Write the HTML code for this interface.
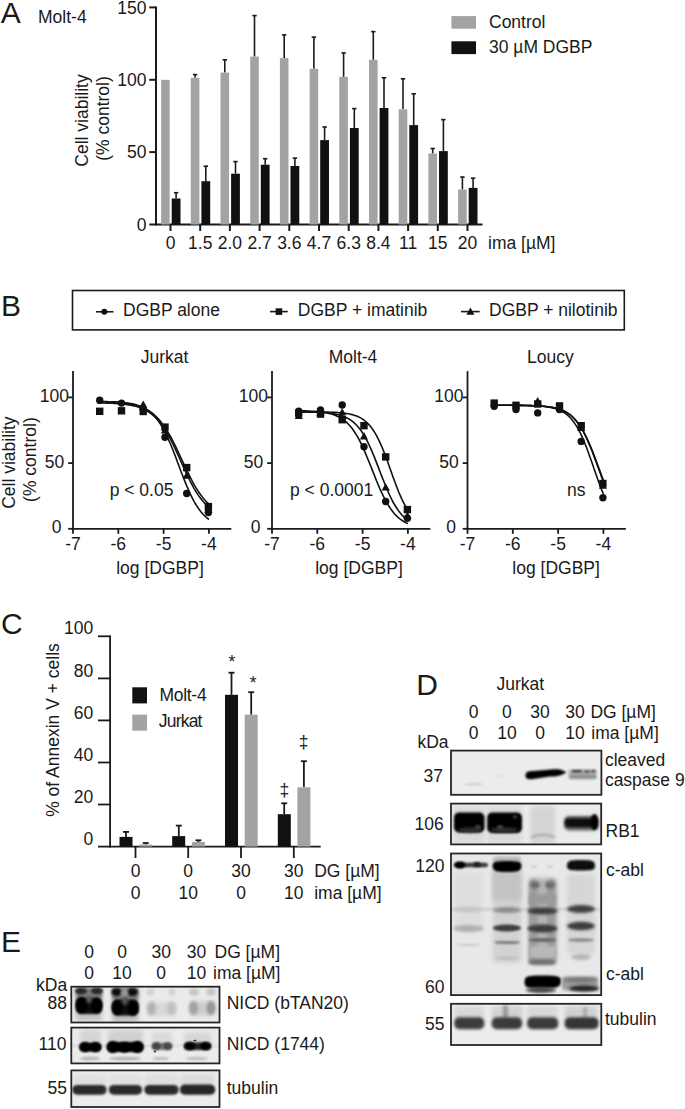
<!DOCTYPE html>
<html><head><meta charset="utf-8"><style>
html,body{margin:0;padding:0;background:#fff;}
svg{display:block;}
text{font-family:"Liberation Sans", sans-serif;fill:#1a1a1a;}
</style></head><body>
<svg width="685" height="1109" viewBox="0 0 685 1109">
<defs><filter id="f6" x="-50%" y="-100%" width="200%" height="300%"><feGaussianBlur stdDeviation="0.6"/></filter><filter id="f8" x="-50%" y="-100%" width="200%" height="300%"><feGaussianBlur stdDeviation="0.8"/></filter><filter id="f9" x="-50%" y="-100%" width="200%" height="300%"><feGaussianBlur stdDeviation="0.9"/></filter><filter id="f10" x="-50%" y="-100%" width="200%" height="300%"><feGaussianBlur stdDeviation="1"/></filter><filter id="f11" x="-50%" y="-100%" width="200%" height="300%"><feGaussianBlur stdDeviation="1.1"/></filter><filter id="f12" x="-50%" y="-100%" width="200%" height="300%"><feGaussianBlur stdDeviation="1.2"/></filter><filter id="f13" x="-50%" y="-100%" width="200%" height="300%"><feGaussianBlur stdDeviation="1.3"/></filter><filter id="f14" x="-50%" y="-100%" width="200%" height="300%"><feGaussianBlur stdDeviation="1.4"/></filter><filter id="f15" x="-50%" y="-100%" width="200%" height="300%"><feGaussianBlur stdDeviation="1.5"/></filter><filter id="f16" x="-50%" y="-100%" width="200%" height="300%"><feGaussianBlur stdDeviation="1.6"/></filter><filter id="f18" x="-50%" y="-100%" width="200%" height="300%"><feGaussianBlur stdDeviation="1.8"/></filter><filter id="f20" x="-50%" y="-100%" width="200%" height="300%"><feGaussianBlur stdDeviation="2"/></filter></defs>
<rect width="685" height="1109" fill="#fff"/>
<text x="0.8" y="22.6" font-size="30" text-anchor="start" >A</text>
<text x="38.0" y="22.8" font-size="17.5" text-anchor="start" >Molt-4</text>
<line x1="156.0" y1="6.6" x2="156.0" y2="225.3" stroke="#1a1a1a" stroke-width="2"/>
<line x1="155.0" y1="224.5" x2="482.5" y2="224.5" stroke="#1a1a1a" stroke-width="2"/>
<line x1="149.3" y1="224.5" x2="156.0" y2="224.5" stroke="#1a1a1a" stroke-width="2"/>
<text x="146.5" y="230.6" font-size="17.5" text-anchor="end" >0</text>
<line x1="149.3" y1="152.1" x2="156.0" y2="152.1" stroke="#1a1a1a" stroke-width="2"/>
<text x="146.5" y="158.2" font-size="17.5" text-anchor="end" >50</text>
<line x1="149.3" y1="79.8" x2="156.0" y2="79.8" stroke="#1a1a1a" stroke-width="2"/>
<text x="146.5" y="85.9" font-size="17.5" text-anchor="end" >100</text>
<line x1="149.3" y1="7.4" x2="156.0" y2="7.4" stroke="#1a1a1a" stroke-width="2"/>
<text x="146.5" y="13.5" font-size="17.5" text-anchor="end" >150</text>
<line x1="176.1" y1="192.7" x2="176.1" y2="198.5" stroke="#1a1a1a" stroke-width="1.6"/>
<line x1="173.9" y1="192.7" x2="178.3" y2="192.7" stroke="#1a1a1a" stroke-width="1.6"/>
<rect x="161.1" y="79.8" width="8.6" height="144.7" fill="#a3a3a3" />
<rect x="171.7" y="198.5" width="8.8" height="26.0" fill="#111111" />
<line x1="170.5" y1="224.5" x2="170.5" y2="231.0" stroke="#1a1a1a" stroke-width="2"/>
<text x="170.5" y="248.9" font-size="17.5" text-anchor="middle" >0</text>
<line x1="195.1" y1="74.6" x2="195.1" y2="77.8" stroke="#1a1a1a" stroke-width="1.6"/>
<line x1="192.9" y1="74.6" x2="197.3" y2="74.6" stroke="#1a1a1a" stroke-width="1.6"/>
<line x1="205.8" y1="166.2" x2="205.8" y2="181.2" stroke="#1a1a1a" stroke-width="1.6"/>
<line x1="203.6" y1="166.2" x2="208.0" y2="166.2" stroke="#1a1a1a" stroke-width="1.6"/>
<rect x="190.8" y="77.8" width="8.6" height="146.7" fill="#a3a3a3" />
<rect x="201.4" y="181.2" width="8.8" height="43.3" fill="#111111" />
<line x1="200.2" y1="224.5" x2="200.2" y2="231.0" stroke="#1a1a1a" stroke-width="2"/>
<text x="200.2" y="248.9" font-size="17.5" text-anchor="middle" >1.5</text>
<line x1="224.8" y1="59.8" x2="224.8" y2="72.6" stroke="#1a1a1a" stroke-width="1.6"/>
<line x1="222.6" y1="59.8" x2="227.0" y2="59.8" stroke="#1a1a1a" stroke-width="1.6"/>
<line x1="235.5" y1="161.6" x2="235.5" y2="173.7" stroke="#1a1a1a" stroke-width="1.6"/>
<line x1="233.3" y1="161.6" x2="237.7" y2="161.6" stroke="#1a1a1a" stroke-width="1.6"/>
<rect x="220.5" y="72.6" width="8.6" height="151.9" fill="#a3a3a3" />
<rect x="231.1" y="173.7" width="8.8" height="50.8" fill="#111111" />
<line x1="229.9" y1="224.5" x2="229.9" y2="231.0" stroke="#1a1a1a" stroke-width="2"/>
<text x="229.9" y="248.9" font-size="17.5" text-anchor="middle" >2.0</text>
<line x1="254.5" y1="15.6" x2="254.5" y2="56.6" stroke="#1a1a1a" stroke-width="1.6"/>
<line x1="252.3" y1="15.6" x2="256.7" y2="15.6" stroke="#1a1a1a" stroke-width="1.6"/>
<line x1="265.2" y1="158.7" x2="265.2" y2="164.7" stroke="#1a1a1a" stroke-width="1.6"/>
<line x1="263.0" y1="158.7" x2="267.4" y2="158.7" stroke="#1a1a1a" stroke-width="1.6"/>
<rect x="250.2" y="56.6" width="8.6" height="167.9" fill="#a3a3a3" />
<rect x="260.8" y="164.7" width="8.8" height="59.8" fill="#111111" />
<line x1="259.6" y1="224.5" x2="259.6" y2="231.0" stroke="#1a1a1a" stroke-width="2"/>
<text x="259.6" y="248.9" font-size="17.5" text-anchor="middle" >2.7</text>
<line x1="284.2" y1="34.9" x2="284.2" y2="58.1" stroke="#1a1a1a" stroke-width="1.6"/>
<line x1="282.0" y1="34.9" x2="286.4" y2="34.9" stroke="#1a1a1a" stroke-width="1.6"/>
<line x1="294.9" y1="158.1" x2="294.9" y2="166.0" stroke="#1a1a1a" stroke-width="1.6"/>
<line x1="292.7" y1="158.1" x2="297.1" y2="158.1" stroke="#1a1a1a" stroke-width="1.6"/>
<rect x="279.9" y="58.1" width="8.6" height="166.4" fill="#a3a3a3" />
<rect x="290.5" y="166.0" width="8.8" height="58.5" fill="#111111" />
<line x1="289.3" y1="224.5" x2="289.3" y2="231.0" stroke="#1a1a1a" stroke-width="2"/>
<text x="289.3" y="248.9" font-size="17.5" text-anchor="middle" >3.6</text>
<line x1="313.9" y1="37.1" x2="313.9" y2="68.8" stroke="#1a1a1a" stroke-width="1.6"/>
<line x1="311.7" y1="37.1" x2="316.1" y2="37.1" stroke="#1a1a1a" stroke-width="1.6"/>
<line x1="324.6" y1="127.0" x2="324.6" y2="140.1" stroke="#1a1a1a" stroke-width="1.6"/>
<line x1="322.4" y1="127.0" x2="326.8" y2="127.0" stroke="#1a1a1a" stroke-width="1.6"/>
<rect x="309.6" y="68.8" width="8.6" height="155.7" fill="#a3a3a3" />
<rect x="320.2" y="140.1" width="8.8" height="84.4" fill="#111111" />
<line x1="319.0" y1="224.5" x2="319.0" y2="231.0" stroke="#1a1a1a" stroke-width="2"/>
<text x="319.0" y="248.9" font-size="17.5" text-anchor="middle" >4.7</text>
<line x1="343.6" y1="52.9" x2="343.6" y2="76.9" stroke="#1a1a1a" stroke-width="1.6"/>
<line x1="341.4" y1="52.9" x2="345.8" y2="52.9" stroke="#1a1a1a" stroke-width="1.6"/>
<line x1="354.3" y1="108.6" x2="354.3" y2="128.0" stroke="#1a1a1a" stroke-width="1.6"/>
<line x1="352.1" y1="108.6" x2="356.5" y2="108.6" stroke="#1a1a1a" stroke-width="1.6"/>
<rect x="339.3" y="76.9" width="8.6" height="147.6" fill="#a3a3a3" />
<rect x="349.9" y="128.0" width="8.8" height="96.5" fill="#111111" />
<line x1="348.7" y1="224.5" x2="348.7" y2="231.0" stroke="#1a1a1a" stroke-width="2"/>
<text x="348.7" y="248.9" font-size="17.5" text-anchor="middle" >6.3</text>
<line x1="373.3" y1="31.6" x2="373.3" y2="59.8" stroke="#1a1a1a" stroke-width="1.6"/>
<line x1="371.1" y1="31.6" x2="375.5" y2="31.6" stroke="#1a1a1a" stroke-width="1.6"/>
<line x1="384.0" y1="77.8" x2="384.0" y2="108.0" stroke="#1a1a1a" stroke-width="1.6"/>
<line x1="381.8" y1="77.8" x2="386.2" y2="77.8" stroke="#1a1a1a" stroke-width="1.6"/>
<rect x="369.0" y="59.8" width="8.6" height="164.7" fill="#a3a3a3" />
<rect x="379.6" y="108.0" width="8.8" height="116.5" fill="#111111" />
<line x1="378.4" y1="224.5" x2="378.4" y2="231.0" stroke="#1a1a1a" stroke-width="2"/>
<text x="378.4" y="248.9" font-size="17.5" text-anchor="middle" >8.4</text>
<line x1="403.0" y1="78.8" x2="403.0" y2="109.3" stroke="#1a1a1a" stroke-width="1.6"/>
<line x1="400.8" y1="78.8" x2="405.2" y2="78.8" stroke="#1a1a1a" stroke-width="1.6"/>
<line x1="413.7" y1="93.8" x2="413.7" y2="125.1" stroke="#1a1a1a" stroke-width="1.6"/>
<line x1="411.5" y1="93.8" x2="415.9" y2="93.8" stroke="#1a1a1a" stroke-width="1.6"/>
<rect x="398.7" y="109.3" width="8.6" height="115.2" fill="#a3a3a3" />
<rect x="409.3" y="125.1" width="8.8" height="99.4" fill="#111111" />
<line x1="408.1" y1="224.5" x2="408.1" y2="231.0" stroke="#1a1a1a" stroke-width="2"/>
<text x="408.1" y="248.9" font-size="17.5" text-anchor="middle" >11</text>
<line x1="432.7" y1="148.5" x2="432.7" y2="153.5" stroke="#1a1a1a" stroke-width="1.6"/>
<line x1="430.5" y1="148.5" x2="434.9" y2="148.5" stroke="#1a1a1a" stroke-width="1.6"/>
<line x1="443.4" y1="119.6" x2="443.4" y2="151.1" stroke="#1a1a1a" stroke-width="1.6"/>
<line x1="441.2" y1="119.6" x2="445.6" y2="119.6" stroke="#1a1a1a" stroke-width="1.6"/>
<rect x="428.4" y="153.5" width="8.6" height="71.0" fill="#a3a3a3" />
<rect x="439.0" y="151.1" width="8.8" height="73.4" fill="#111111" />
<line x1="437.8" y1="224.5" x2="437.8" y2="231.0" stroke="#1a1a1a" stroke-width="2"/>
<text x="437.8" y="248.9" font-size="17.5" text-anchor="middle" >15</text>
<line x1="462.4" y1="177.0" x2="462.4" y2="189.5" stroke="#1a1a1a" stroke-width="1.6"/>
<line x1="460.2" y1="177.0" x2="464.6" y2="177.0" stroke="#1a1a1a" stroke-width="1.6"/>
<line x1="473.1" y1="178.2" x2="473.1" y2="187.9" stroke="#1a1a1a" stroke-width="1.6"/>
<line x1="470.9" y1="178.2" x2="475.3" y2="178.2" stroke="#1a1a1a" stroke-width="1.6"/>
<rect x="458.1" y="189.5" width="8.6" height="35.0" fill="#a3a3a3" />
<rect x="468.7" y="187.9" width="8.8" height="36.6" fill="#111111" />
<line x1="467.5" y1="224.5" x2="467.5" y2="231.0" stroke="#1a1a1a" stroke-width="2"/>
<text x="467.5" y="248.9" font-size="17.5" text-anchor="middle" >20</text>
<text x="488.0" y="248.9" font-size="17.5" text-anchor="start" >ima [µM]</text>
<rect x="451.4" y="16.1" width="24.6" height="12.6" fill="#a3a3a3" />
<rect x="451.4" y="41.3" width="24.6" height="12.8" fill="#111111" />
<text x="489.0" y="28.4" font-size="17.5" text-anchor="start" >Control</text>
<text x="489.0" y="52.9" font-size="17.5" text-anchor="start" >30 µM DGBP</text>
<text transform="translate(88.2,120.5) rotate(-90)" font-size="17.5" text-anchor="middle">Cell viability</text>
<text transform="translate(108.8,118.5) rotate(-90)" font-size="17.5" text-anchor="middle">(% control)</text>
<text x="0.9" y="316.0" font-size="30" text-anchor="start" >B</text>
<rect x="72.5" y="290.5" width="551.8" height="39.4" fill="none" stroke="#1a1a1a" stroke-width="1.6"/>
<line x1="95.9" y1="311.8" x2="113.5" y2="311.8" stroke="#1a1a1a" stroke-width="1.6"/>
<circle cx="104.3" cy="311.8" r="3.0" fill="#111111"/>
<text x="123.0" y="316.0" font-size="17.5" text-anchor="start" >DGBP alone</text>
<line x1="270.0" y1="311.6" x2="287.8" y2="311.6" stroke="#1a1a1a" stroke-width="1.6"/>
<rect x="275.6" y="308.3" width="6.6" height="6.6" fill="#111111" />
<text x="297.8" y="316.0" font-size="17.5" text-anchor="start" >DGBP + imatinib</text>
<line x1="461.0" y1="311.6" x2="479.7" y2="311.6" stroke="#1a1a1a" stroke-width="1.6"/>
<polygon points="466.4,314.8 474.4,314.8 470.4,307.6" fill="#111111"/>
<text x="489.0" y="316.0" font-size="17.5" text-anchor="start" >DGBP + nilotinib</text>
<line x1="73.0" y1="371.1" x2="73.0" y2="529.6" stroke="#1a1a1a" stroke-width="1.8"/>
<line x1="72.1" y1="528.8" x2="231.3" y2="528.8" stroke="#1a1a1a" stroke-width="1.8"/>
<line x1="68.2" y1="528.8" x2="73.0" y2="528.8" stroke="#1a1a1a" stroke-width="1.8"/>
<text x="56.6" y="533.3" font-size="17.5" text-anchor="middle" >0</text>
<line x1="68.2" y1="463.1" x2="73.0" y2="463.1" stroke="#1a1a1a" stroke-width="1.8"/>
<text x="54.4" y="467.6" font-size="17.5" text-anchor="middle" >50</text>
<line x1="68.2" y1="397.4" x2="73.0" y2="397.4" stroke="#1a1a1a" stroke-width="1.8"/>
<text x="54.4" y="401.9" font-size="17.5" text-anchor="middle" >100</text>
<line x1="73.0" y1="528.8" x2="73.0" y2="533.8" stroke="#1a1a1a" stroke-width="1.8"/>
<text x="73.0" y="549.6" font-size="17.5" text-anchor="middle" >-7</text>
<line x1="118.3" y1="528.8" x2="118.3" y2="533.8" stroke="#1a1a1a" stroke-width="1.8"/>
<text x="118.3" y="549.6" font-size="17.5" text-anchor="middle" >-6</text>
<line x1="163.6" y1="528.8" x2="163.6" y2="533.8" stroke="#1a1a1a" stroke-width="1.8"/>
<text x="163.6" y="549.6" font-size="17.5" text-anchor="middle" >-5</text>
<line x1="208.9" y1="528.8" x2="208.9" y2="533.8" stroke="#1a1a1a" stroke-width="1.8"/>
<text x="208.9" y="549.6" font-size="17.5" text-anchor="middle" >-4</text>
<text x="160.0" y="574.0" font-size="17.5" text-anchor="middle" >log [DGBP]</text>
<text x="164.6" y="362.6" font-size="17.5" text-anchor="middle" >Jurkat</text>
<text x="109.7" y="495.8" font-size="17.5" text-anchor="start" >p &lt; 0.05</text>
<polyline points="97.5,401.5 99.3,401.5 101.2,401.5 103.0,401.6 104.9,401.6 106.7,401.6 108.6,401.7 110.5,401.8 112.3,401.8 114.2,401.9 116.0,402.0 117.9,402.1 119.7,402.2 121.6,402.4 123.5,402.6 125.3,402.8 127.2,403.0 129.0,403.3 130.9,403.6 132.8,404.0 134.6,404.4 136.5,404.9 138.3,405.5 140.2,406.2 142.0,407.0 143.9,407.9 145.8,408.9 147.6,410.1 149.5,411.5 151.3,413.1 153.2,414.8 155.0,416.8 156.9,419.1 158.8,421.6 160.6,424.4 162.5,427.5 164.3,430.8 166.2,434.5 168.0,438.5 169.9,442.7 171.8,447.2 173.6,451.8 175.5,456.6 177.3,461.6 179.2,466.5 181.0,471.5 182.9,476.3 184.8,481.1 186.6,485.6 188.5,489.9 190.3,494.0 192.2,497.8 194.0,501.3 195.9,504.5 197.8,507.4 199.6,510.1 201.5,512.4 203.3,514.5 205.2,516.4 207.0,518.0 208.9,519.5" fill="none" stroke="#111111" stroke-width="1.6"/>
<polyline points="97.5,401.6 99.3,401.6 101.2,401.6 103.0,401.7 104.9,401.7 106.7,401.8 108.6,401.9 110.5,401.9 112.3,402.0 114.2,402.1 116.0,402.2 117.9,402.4 119.7,402.5 121.6,402.7 123.5,402.9 125.3,403.1 127.2,403.4 129.0,403.7 130.9,404.0 132.8,404.4 134.6,404.8 136.5,405.3 138.3,405.9 140.2,406.5 142.0,407.2 143.9,408.0 145.8,409.0 147.6,410.0 149.5,411.2 151.3,412.5 153.2,413.9 155.0,415.5 156.9,417.3 158.8,419.3 160.6,421.5 162.5,423.9 164.3,426.5 166.2,429.3 168.0,432.3 169.9,435.5 171.8,438.9 173.6,442.5 175.5,446.2 177.3,450.0 179.2,454.0 181.0,458.0 182.9,462.0 184.8,465.9 186.6,469.9 188.5,473.7 190.3,477.4 192.2,481.0 194.0,484.4 195.9,487.6 197.8,490.6 199.6,493.3 201.5,495.9 203.3,498.3 205.2,500.5 207.0,502.4 208.9,504.2" fill="none" stroke="#111111" stroke-width="1.6"/>
<polyline points="97.5,402.9 99.3,402.9 101.2,402.9 103.0,403.0 104.9,403.0 106.7,403.1 108.6,403.1 110.5,403.2 112.3,403.3 114.2,403.4 116.0,403.5 117.9,403.6 119.7,403.8 121.6,403.9 123.5,404.1 125.3,404.3 127.2,404.6 129.0,404.9 130.9,405.2 132.8,405.6 134.6,406.0 136.5,406.5 138.3,407.1 140.2,407.7 142.0,408.4 143.9,409.3 145.8,410.2 147.6,411.3 149.5,412.5 151.3,413.8 153.2,415.3 155.0,417.0 156.9,418.9 158.8,421.0 160.6,423.3 162.5,425.8 164.3,428.6 166.2,431.5 168.0,434.7 169.9,438.1 171.8,441.7 173.6,445.5 175.5,449.4 177.3,453.4 179.2,457.5 181.0,461.6 182.9,465.8 184.8,469.8 186.6,473.8 188.5,477.7 190.3,481.5 192.2,485.0 194.0,488.3 195.9,491.5 197.8,494.4 199.6,497.1 201.5,499.5 203.3,501.8 205.2,503.8 207.0,505.7 208.9,507.3" fill="none" stroke="#111111" stroke-width="1.6"/>
<circle cx="99.7" cy="400.2" r="3.7" fill="#111111"/>
<circle cx="121.5" cy="403.1" r="3.7" fill="#111111"/>
<circle cx="143.2" cy="409.2" r="3.7" fill="#111111"/>
<circle cx="165.0" cy="437.3" r="3.7" fill="#111111"/>
<circle cx="186.7" cy="493.5" r="3.7" fill="#111111"/>
<circle cx="208.4" cy="512.5" r="3.7" fill="#111111"/>
<rect x="96.0" y="407.6" width="7.4" height="7.4" fill="#111111" />
<rect x="117.8" y="407.1" width="7.4" height="7.4" fill="#111111" />
<rect x="139.5" y="407.8" width="7.4" height="7.4" fill="#111111" />
<rect x="161.3" y="423.4" width="7.4" height="7.4" fill="#111111" />
<rect x="183.0" y="463.9" width="7.4" height="7.4" fill="#111111" />
<rect x="204.7" y="502.9" width="7.4" height="7.4" fill="#111111" />
<polygon points="139.1,407.8 147.3,407.8 143.2,400.4" fill="#111111"/>
<polygon points="160.9,433.6 169.0,433.6 165.0,426.2" fill="#111111"/>
<polygon points="182.6,478.8 190.8,478.8 186.7,471.4" fill="#111111"/>
<polygon points="204.4,512.4 212.5,512.4 208.4,505.0" fill="#111111"/>
<line x1="272.0" y1="371.1" x2="272.0" y2="529.6" stroke="#1a1a1a" stroke-width="1.8"/>
<line x1="271.1" y1="528.8" x2="430.3" y2="528.8" stroke="#1a1a1a" stroke-width="1.8"/>
<line x1="267.2" y1="528.8" x2="272.0" y2="528.8" stroke="#1a1a1a" stroke-width="1.8"/>
<text x="255.6" y="533.3" font-size="17.5" text-anchor="middle" >0</text>
<line x1="267.2" y1="463.1" x2="272.0" y2="463.1" stroke="#1a1a1a" stroke-width="1.8"/>
<text x="253.4" y="467.6" font-size="17.5" text-anchor="middle" >50</text>
<line x1="267.2" y1="397.4" x2="272.0" y2="397.4" stroke="#1a1a1a" stroke-width="1.8"/>
<text x="253.4" y="401.9" font-size="17.5" text-anchor="middle" >100</text>
<line x1="272.0" y1="528.8" x2="272.0" y2="533.8" stroke="#1a1a1a" stroke-width="1.8"/>
<text x="272.0" y="549.6" font-size="17.5" text-anchor="middle" >-7</text>
<line x1="317.3" y1="528.8" x2="317.3" y2="533.8" stroke="#1a1a1a" stroke-width="1.8"/>
<text x="317.3" y="549.6" font-size="17.5" text-anchor="middle" >-6</text>
<line x1="362.6" y1="528.8" x2="362.6" y2="533.8" stroke="#1a1a1a" stroke-width="1.8"/>
<text x="362.6" y="549.6" font-size="17.5" text-anchor="middle" >-5</text>
<line x1="407.9" y1="528.8" x2="407.9" y2="533.8" stroke="#1a1a1a" stroke-width="1.8"/>
<text x="407.9" y="549.6" font-size="17.5" text-anchor="middle" >-4</text>
<text x="359.0" y="574.0" font-size="17.5" text-anchor="middle" >log [DGBP]</text>
<text x="353.0" y="362.6" font-size="17.5" text-anchor="middle" >Molt-4</text>
<text x="290.0" y="495.8" font-size="17.5" text-anchor="start" >p &lt; 0.0001</text>
<polyline points="296.5,410.7 298.3,410.7 300.2,410.8 302.0,410.8 303.9,410.9 305.7,410.9 307.6,411.0 309.5,411.1 311.3,411.2 313.2,411.3 315.0,411.4 316.9,411.6 318.7,411.7 320.6,411.9 322.5,412.2 324.3,412.5 326.2,412.8 328.0,413.2 329.9,413.6 331.8,414.1 333.6,414.7 335.5,415.4 337.3,416.2 339.2,417.1 341.0,418.2 342.9,419.4 344.8,420.8 346.6,422.4 348.5,424.3 350.3,426.3 352.2,428.6 354.0,431.2 355.9,434.1 357.8,437.2 359.6,440.7 361.5,444.4 363.3,448.4 365.2,452.6 367.0,457.0 368.9,461.6 370.8,466.2 372.6,470.9 374.5,475.6 376.3,480.3 378.2,484.7 380.0,489.1 381.9,493.2 383.8,497.0 385.6,500.6 387.5,503.9 389.3,506.8 391.2,509.6 393.0,512.0 394.9,514.2 396.8,516.1 398.6,517.8 400.5,519.3 402.3,520.6 404.2,521.7 406.0,522.7 407.9,523.6" fill="none" stroke="#111111" stroke-width="1.6"/>
<polyline points="296.5,411.9 298.3,411.9 300.2,411.9 302.0,411.9 303.9,411.9 305.7,411.9 307.6,411.9 309.5,411.9 311.3,411.9 313.2,411.9 315.0,411.9 316.9,411.9 318.7,412.0 320.6,412.0 322.5,412.0 324.3,412.0 326.2,412.1 328.0,412.1 329.9,412.2 331.8,412.2 333.6,412.3 335.5,412.4 337.3,412.5 339.2,412.7 341.0,412.8 342.9,413.0 344.8,413.2 346.6,413.5 348.5,413.8 350.3,414.2 352.2,414.6 354.0,415.2 355.9,415.8 357.8,416.5 359.6,417.4 361.5,418.4 363.3,419.6 365.2,421.0 367.0,422.7 368.9,424.6 370.8,426.7 372.6,429.2 374.5,432.1 376.3,435.2 378.2,438.8 380.0,442.7 381.9,446.9 383.8,451.5 385.6,456.3 387.5,461.3 389.3,466.5 391.2,471.7 393.0,476.9 394.9,482.1 396.8,487.0 398.6,491.7 400.5,496.1 402.3,500.1 404.2,503.8 406.0,507.2 407.9,510.2" fill="none" stroke="#111111" stroke-width="1.6"/>
<polyline points="296.5,411.9 298.3,411.9 300.2,412.0 302.0,412.0 303.9,412.0 305.7,412.0 307.6,412.0 309.5,412.1 311.3,412.1 313.2,412.2 315.0,412.2 316.9,412.3 318.7,412.4 320.6,412.5 322.5,412.6 324.3,412.7 326.2,412.8 328.0,413.0 329.9,413.2 331.8,413.5 333.6,413.8 335.5,414.1 337.3,414.5 339.2,414.9 341.0,415.5 342.9,416.1 344.8,416.9 346.6,417.7 348.5,418.7 350.3,419.9 352.2,421.2 354.0,422.7 355.9,424.5 357.8,426.5 359.6,428.7 361.5,431.3 363.3,434.1 365.2,437.3 367.0,440.7 368.9,444.5 370.8,448.6 372.6,452.9 374.5,457.4 376.3,462.1 378.2,466.9 380.0,471.7 381.9,476.6 383.8,481.3 385.6,485.9 387.5,490.3 389.3,494.5 391.2,498.4 393.0,502.0 394.9,505.3 396.8,508.2 398.6,510.9 400.5,513.3 402.3,515.4 404.2,517.2 406.0,518.8 407.9,520.3" fill="none" stroke="#111111" stroke-width="1.6"/>
<circle cx="298.7" cy="411.1" r="3.7" fill="#111111"/>
<circle cx="320.5" cy="410.0" r="3.7" fill="#111111"/>
<circle cx="342.2" cy="405.0" r="3.7" fill="#111111"/>
<circle cx="364.0" cy="446.7" r="3.7" fill="#111111"/>
<circle cx="385.7" cy="501.5" r="3.7" fill="#111111"/>
<circle cx="407.4" cy="518.3" r="3.7" fill="#111111"/>
<rect x="295.0" y="409.5" width="7.4" height="7.4" fill="#111111" />
<rect x="316.8" y="410.4" width="7.4" height="7.4" fill="#111111" />
<rect x="338.5" y="416.0" width="7.4" height="7.4" fill="#111111" />
<rect x="360.3" y="422.0" width="7.4" height="7.4" fill="#111111" />
<rect x="382.0" y="453.2" width="7.4" height="7.4" fill="#111111" />
<rect x="403.7" y="505.9" width="7.4" height="7.4" fill="#111111" />
<polygon points="294.7,419.1 302.8,419.1 298.7,411.7" fill="#111111"/>
<polygon points="316.4,415.8 324.5,415.8 320.5,408.4" fill="#111111"/>
<polygon points="338.1,415.6 346.3,415.6 342.2,408.2" fill="#111111"/>
<polygon points="359.9,439.5 368.0,439.5 364.0,432.1" fill="#111111"/>
<polygon points="381.6,490.6 389.8,490.6 385.7,483.2" fill="#111111"/>
<polygon points="403.4,519.0 411.5,519.0 407.4,511.6" fill="#111111"/>
<line x1="467.5" y1="371.1" x2="467.5" y2="529.6" stroke="#1a1a1a" stroke-width="1.8"/>
<line x1="466.6" y1="528.8" x2="625.8" y2="528.8" stroke="#1a1a1a" stroke-width="1.8"/>
<line x1="462.7" y1="528.8" x2="467.5" y2="528.8" stroke="#1a1a1a" stroke-width="1.8"/>
<text x="451.1" y="533.3" font-size="17.5" text-anchor="middle" >0</text>
<line x1="462.7" y1="463.1" x2="467.5" y2="463.1" stroke="#1a1a1a" stroke-width="1.8"/>
<text x="448.9" y="467.6" font-size="17.5" text-anchor="middle" >50</text>
<line x1="462.7" y1="397.4" x2="467.5" y2="397.4" stroke="#1a1a1a" stroke-width="1.8"/>
<text x="448.9" y="401.9" font-size="17.5" text-anchor="middle" >100</text>
<line x1="467.5" y1="528.8" x2="467.5" y2="533.8" stroke="#1a1a1a" stroke-width="1.8"/>
<text x="467.5" y="549.6" font-size="17.5" text-anchor="middle" >-7</text>
<line x1="512.8" y1="528.8" x2="512.8" y2="533.8" stroke="#1a1a1a" stroke-width="1.8"/>
<text x="512.8" y="549.6" font-size="17.5" text-anchor="middle" >-6</text>
<line x1="558.1" y1="528.8" x2="558.1" y2="533.8" stroke="#1a1a1a" stroke-width="1.8"/>
<text x="558.1" y="549.6" font-size="17.5" text-anchor="middle" >-5</text>
<line x1="603.4" y1="528.8" x2="603.4" y2="533.8" stroke="#1a1a1a" stroke-width="1.8"/>
<text x="603.4" y="549.6" font-size="17.5" text-anchor="middle" >-4</text>
<text x="556.1" y="574.0" font-size="17.5" text-anchor="middle" >log [DGBP]</text>
<text x="550.3" y="362.6" font-size="17.5" text-anchor="middle" >Loucy</text>
<text x="567.0" y="495.8" font-size="17.5" text-anchor="start" >ns</text>
<polyline points="492.0,405.3 493.8,405.3 495.7,405.3 497.5,405.3 499.4,405.3 501.2,405.3 503.1,405.3 505.0,405.3 506.8,405.3 508.7,405.3 510.5,405.3 512.4,405.3 514.2,405.4 516.1,405.4 518.0,405.4 519.8,405.4 521.7,405.4 523.5,405.5 525.4,405.5 527.3,405.5 529.1,405.6 531.0,405.6 532.8,405.7 534.7,405.8 536.5,405.9 538.4,406.0 540.3,406.1 542.1,406.3 544.0,406.4 545.8,406.7 547.7,406.9 549.5,407.2 551.4,407.6 553.3,408.0 555.1,408.5 557.0,409.1 558.8,409.9 560.7,410.7 562.5,411.7 564.4,412.8 566.3,414.1 568.1,415.7 570.0,417.5 571.8,419.5 573.7,421.9 575.5,424.6 577.4,427.6 579.3,431.0 581.1,434.7 583.0,438.8 584.8,443.2 586.7,448.0 588.5,453.0 590.4,458.2 592.3,463.5 594.1,468.9 596.0,474.2 597.8,479.5 599.7,484.6 601.5,489.4 603.4,493.9" fill="none" stroke="#111111" stroke-width="1.6"/>
<polyline points="492.0,405.3 493.8,405.3 495.7,405.3 497.5,405.3 499.4,405.3 501.2,405.3 503.1,405.3 505.0,405.3 506.8,405.3 508.7,405.3 510.5,405.3 512.4,405.4 514.2,405.4 516.1,405.4 518.0,405.4 519.8,405.4 521.7,405.4 523.5,405.5 525.4,405.5 527.3,405.5 529.1,405.6 531.0,405.6 532.8,405.7 534.7,405.7 536.5,405.8 538.4,405.9 540.3,406.0 542.1,406.2 544.0,406.3 545.8,406.5 547.7,406.7 549.5,407.0 551.4,407.3 553.3,407.6 555.1,408.0 557.0,408.5 558.8,409.0 560.7,409.7 562.5,410.4 564.4,411.3 566.3,412.3 568.1,413.4 570.0,414.7 571.8,416.2 573.7,418.0 575.5,420.0 577.4,422.2 579.3,424.7 581.1,427.5 583.0,430.6 584.8,434.0 586.7,437.8 588.5,441.8 590.4,446.1 592.3,450.7 594.1,455.4 596.0,460.3 597.8,465.3 599.7,470.3 601.5,475.3 603.4,480.2" fill="none" stroke="#111111" stroke-width="1.6"/>
<polyline points="492.0,405.3 493.8,405.3 495.7,405.3 497.5,405.3 499.4,405.3 501.2,405.3 503.1,405.3 505.0,405.3 506.8,405.3 508.7,405.3 510.5,405.3 512.4,405.3 514.2,405.4 516.1,405.4 518.0,405.4 519.8,405.4 521.7,405.4 523.5,405.4 525.4,405.5 527.3,405.5 529.1,405.6 531.0,405.6 532.8,405.7 534.7,405.7 536.5,405.8 538.4,405.9 540.3,406.0 542.1,406.1 544.0,406.3 545.8,406.5 547.7,406.7 549.5,406.9 551.4,407.2 553.3,407.6 555.1,408.0 557.0,408.4 558.8,409.0 560.7,409.6 562.5,410.4 564.4,411.2 566.3,412.2 568.1,413.4 570.0,414.7 571.8,416.3 573.7,418.1 575.5,420.1 577.4,422.4 579.3,424.9 581.1,427.8 583.0,431.0 584.8,434.6 586.7,438.4 588.5,442.6 590.4,447.0 592.3,451.7 594.1,456.6 596.0,461.6 597.8,466.7 599.7,471.8 601.5,476.8 603.4,481.7" fill="none" stroke="#111111" stroke-width="1.6"/>
<circle cx="494.2" cy="406.3" r="3.7" fill="#111111"/>
<circle cx="516.0" cy="409.5" r="3.7" fill="#111111"/>
<circle cx="537.7" cy="412.9" r="3.7" fill="#111111"/>
<circle cx="559.5" cy="409.5" r="3.7" fill="#111111"/>
<circle cx="581.2" cy="441.4" r="3.7" fill="#111111"/>
<circle cx="602.9" cy="497.8" r="3.7" fill="#111111"/>
<rect x="490.5" y="399.4" width="7.4" height="7.4" fill="#111111" />
<rect x="512.3" y="401.6" width="7.4" height="7.4" fill="#111111" />
<rect x="534.0" y="400.3" width="7.4" height="7.4" fill="#111111" />
<rect x="555.8" y="402.2" width="7.4" height="7.4" fill="#111111" />
<rect x="577.5" y="422.0" width="7.4" height="7.4" fill="#111111" />
<rect x="599.2" y="479.8" width="7.4" height="7.4" fill="#111111" />
<polygon points="533.6,404.3 541.8,404.3 537.7,396.9" fill="#111111"/>
<polygon points="577.1,431.0 585.3,431.0 581.2,423.6" fill="#111111"/>
<polygon points="598.9,488.8 607.0,488.8 602.9,481.4" fill="#111111"/>
<text transform="translate(15.2,462.6) rotate(-90)" font-size="17.5" text-anchor="middle">Cell viability</text>
<text transform="translate(35.8,459.6) rotate(-90)" font-size="17.5" text-anchor="middle">(% control)</text>
<text x="0.9" y="634.0" font-size="30" text-anchor="start" >C</text>
<line x1="110.1" y1="635.5" x2="110.1" y2="847.4" stroke="#1a1a1a" stroke-width="1.8"/>
<line x1="109.2" y1="846.6" x2="320.7" y2="846.6" stroke="#1a1a1a" stroke-width="1.8"/>
<line x1="98.0" y1="846.6" x2="110.1" y2="846.6" stroke="#1a1a1a" stroke-width="1.8"/>
<text x="93.3" y="844.7" font-size="17.5" text-anchor="end" >0</text>
<line x1="98.0" y1="804.5" x2="110.1" y2="804.5" stroke="#1a1a1a" stroke-width="1.8"/>
<text x="93.3" y="802.6" font-size="17.5" text-anchor="end" >20</text>
<line x1="98.0" y1="762.5" x2="110.1" y2="762.5" stroke="#1a1a1a" stroke-width="1.8"/>
<text x="93.3" y="760.6" font-size="17.5" text-anchor="end" >40</text>
<line x1="98.0" y1="720.4" x2="110.1" y2="720.4" stroke="#1a1a1a" stroke-width="1.8"/>
<text x="93.3" y="718.5" font-size="17.5" text-anchor="end" >60</text>
<line x1="98.0" y1="678.4" x2="110.1" y2="678.4" stroke="#1a1a1a" stroke-width="1.8"/>
<text x="93.3" y="676.5" font-size="17.5" text-anchor="end" >80</text>
<line x1="98.0" y1="636.3" x2="110.1" y2="636.3" stroke="#1a1a1a" stroke-width="1.8"/>
<text x="93.3" y="634.4" font-size="17.5" text-anchor="end" >100</text>
<line x1="126.0" y1="831.9" x2="126.0" y2="836.9" stroke="#1a1a1a" stroke-width="1.8"/>
<line x1="123.0" y1="831.9" x2="129.0" y2="831.9" stroke="#1a1a1a" stroke-width="1.8"/>
<rect x="119.5" y="836.9" width="13.0" height="9.7" fill="#111111" />
<line x1="145.7" y1="843.0" x2="145.7" y2="844.5" stroke="#1a1a1a" stroke-width="1.8"/>
<line x1="142.7" y1="843.0" x2="148.7" y2="843.0" stroke="#1a1a1a" stroke-width="1.8"/>
<rect x="139.2" y="844.5" width="13.0" height="2.1" fill="#a3a3a3" />
<line x1="135.5" y1="846.6" x2="135.5" y2="858.0" stroke="#1a1a1a" stroke-width="1.8"/>
<line x1="178.8" y1="825.6" x2="178.8" y2="836.1" stroke="#1a1a1a" stroke-width="1.8"/>
<line x1="175.8" y1="825.6" x2="181.8" y2="825.6" stroke="#1a1a1a" stroke-width="1.8"/>
<rect x="172.2" y="836.1" width="13.0" height="10.5" fill="#111111" />
<line x1="198.4" y1="840.3" x2="198.4" y2="842.0" stroke="#1a1a1a" stroke-width="1.8"/>
<line x1="195.4" y1="840.3" x2="201.4" y2="840.3" stroke="#1a1a1a" stroke-width="1.8"/>
<rect x="191.9" y="842.0" width="13.0" height="4.6" fill="#a3a3a3" />
<line x1="188.2" y1="846.6" x2="188.2" y2="858.0" stroke="#1a1a1a" stroke-width="1.8"/>
<line x1="231.5" y1="672.7" x2="231.5" y2="694.8" stroke="#1a1a1a" stroke-width="1.8"/>
<line x1="228.5" y1="672.7" x2="234.5" y2="672.7" stroke="#1a1a1a" stroke-width="1.8"/>
<rect x="225.0" y="694.8" width="13.0" height="151.8" fill="#111111" />
<line x1="251.2" y1="692.2" x2="251.2" y2="714.7" stroke="#1a1a1a" stroke-width="1.8"/>
<line x1="248.2" y1="692.2" x2="254.2" y2="692.2" stroke="#1a1a1a" stroke-width="1.8"/>
<rect x="244.7" y="714.7" width="13.0" height="131.9" fill="#a3a3a3" />
<line x1="241.0" y1="846.6" x2="241.0" y2="858.0" stroke="#1a1a1a" stroke-width="1.8"/>
<line x1="284.2" y1="803.3" x2="284.2" y2="814.2" stroke="#1a1a1a" stroke-width="1.8"/>
<line x1="281.2" y1="803.3" x2="287.2" y2="803.3" stroke="#1a1a1a" stroke-width="1.8"/>
<rect x="277.8" y="814.2" width="13.0" height="32.4" fill="#111111" />
<line x1="303.9" y1="761.2" x2="303.9" y2="787.3" stroke="#1a1a1a" stroke-width="1.8"/>
<line x1="300.9" y1="761.2" x2="306.9" y2="761.2" stroke="#1a1a1a" stroke-width="1.8"/>
<rect x="297.4" y="787.3" width="13.0" height="59.3" fill="#a3a3a3" />
<line x1="293.8" y1="846.6" x2="293.8" y2="858.0" stroke="#1a1a1a" stroke-width="1.8"/>
<text x="135.5" y="876.8" font-size="17.5" text-anchor="middle" >0</text>
<text x="135.5" y="898.6" font-size="17.5" text-anchor="middle" >0</text>
<text x="188.2" y="876.8" font-size="17.5" text-anchor="middle" >0</text>
<text x="188.2" y="898.6" font-size="17.5" text-anchor="middle" >10</text>
<text x="241.0" y="876.8" font-size="17.5" text-anchor="middle" >30</text>
<text x="241.0" y="898.6" font-size="17.5" text-anchor="middle" >0</text>
<text x="293.8" y="876.8" font-size="17.5" text-anchor="middle" >30</text>
<text x="293.8" y="898.6" font-size="17.5" text-anchor="middle" >10</text>
<text x="314.2" y="876.8" font-size="17.5" text-anchor="start" >DG [µM]</text>
<text x="314.2" y="898.6" font-size="17.5" text-anchor="start" >ima [µM]</text>
<text x="232.0" y="668.0" font-size="17.5" text-anchor="middle" >*</text>
<text x="253.2" y="689.0" font-size="17.5" text-anchor="middle" >*</text>
<text x="284.4" y="796.0" font-size="17.5" text-anchor="middle" >‡</text>
<text x="303.6" y="747.5" font-size="17.5" text-anchor="middle" >‡</text>
<rect x="132.3" y="687.3" width="14.7" height="16.1" fill="#111111" />
<rect x="132.3" y="714.6" width="14.7" height="16.1" fill="#a3a3a3" />
<text x="159.5" y="701.0" font-size="17.5" text-anchor="start" letter-spacing="-0.3">Molt-4</text>
<text x="158.8" y="727.3" font-size="17.5" text-anchor="start" letter-spacing="-0.8">Jurkat</text>
<text transform="translate(58.8,730.0) rotate(-90)" font-size="17.5" text-anchor="middle">% of Annexin V + cells</text>
<text x="416.2" y="695.0" font-size="30" text-anchor="start" >D</text>
<text x="496.5" y="690.0" font-size="17.5" text-anchor="start" >Jurkat</text>
<text x="473.6" y="717.7" font-size="17.5" text-anchor="middle" >0</text>
<text x="473.6" y="738.9" font-size="17.5" text-anchor="middle" >0</text>
<text x="506.9" y="717.7" font-size="17.5" text-anchor="middle" >0</text>
<text x="506.9" y="738.9" font-size="17.5" text-anchor="middle" >10</text>
<text x="540.0" y="717.7" font-size="17.5" text-anchor="middle" >30</text>
<text x="540.0" y="738.9" font-size="17.5" text-anchor="middle" >0</text>
<text x="574.9" y="717.7" font-size="17.5" text-anchor="middle" >30</text>
<text x="574.9" y="738.9" font-size="17.5" text-anchor="middle" >10</text>
<text x="590.4" y="717.7" font-size="17.5" text-anchor="start" >DG [µM]</text>
<text x="591.3" y="738.9" font-size="17.5" text-anchor="start" >ima [µM]</text>
<text x="417.4" y="748.2" font-size="17.5" text-anchor="start" >kDa</text>
<text x="443.0" y="781.5" font-size="17.5" text-anchor="end" >37</text>
<text x="443.7" y="829.7" font-size="17.5" text-anchor="end" >106</text>
<text x="444.5" y="872.4" font-size="17.5" text-anchor="end" >120</text>
<text x="444.5" y="992.7" font-size="17.5" text-anchor="end" >60</text>
<text x="444.5" y="1030.1" font-size="17.5" text-anchor="end" >55</text>
<text x="604.9" y="766.1" font-size="17.5" text-anchor="start" >cleaved</text>
<text x="604.9" y="786.3" font-size="17.5" text-anchor="start" >caspase 9</text>
<text x="605.5" y="836.8" font-size="17.5" text-anchor="start" >RB1</text>
<text x="606.0" y="876.0" font-size="17.5" text-anchor="start" >c-abl</text>
<text x="606.0" y="980.3" font-size="17.5" text-anchor="start" >c-abl</text>
<text x="605.0" y="1025.2" font-size="17.5" text-anchor="start" >tubulin</text>
<text x="0.9" y="951.7" font-size="30" text-anchor="start" >E</text>
<text x="89.0" y="958.0" font-size="17.5" text-anchor="middle" >0</text>
<text x="89.0" y="978.9" font-size="17.5" text-anchor="middle" >0</text>
<text x="122.0" y="958.0" font-size="17.5" text-anchor="middle" >0</text>
<text x="122.0" y="978.9" font-size="17.5" text-anchor="middle" >10</text>
<text x="161.2" y="958.0" font-size="17.5" text-anchor="middle" >30</text>
<text x="161.2" y="978.9" font-size="17.5" text-anchor="middle" >0</text>
<text x="196.5" y="958.0" font-size="17.5" text-anchor="middle" >30</text>
<text x="196.5" y="978.9" font-size="17.5" text-anchor="middle" >10</text>
<text x="214.5" y="958.0" font-size="17.5" text-anchor="start" >DG [µM]</text>
<text x="213.0" y="978.9" font-size="17.5" text-anchor="start" >ima [µM]</text>
<text x="36.0" y="990.7" font-size="17.5" text-anchor="start" >kDa</text>
<text x="67.0" y="1009.4" font-size="17.5" text-anchor="end" >88</text>
<text x="66.5" y="1050.3" font-size="17.5" text-anchor="end" >110</text>
<text x="67.0" y="1093.7" font-size="17.5" text-anchor="end" >55</text>
<text x="226.7" y="1009.0" font-size="17.5" text-anchor="start" >NICD (bTAN20)</text>
<text x="226.7" y="1049.5" font-size="17.5" text-anchor="start" >NICD (1744)</text>
<text x="226.7" y="1094.0" font-size="17.5" text-anchor="start" >tubulin</text>
<clipPath id="clip1"><rect x="451" y="750.6" width="150.4" height="44.2"/></clipPath>
<rect x="451" y="750.6" width="150.4" height="44.2" fill="#ececec"/>
<g clip-path="url(#clip1)">
<rect x="465" y="783.5" width="17" height="1.6" rx="1" fill="#c4c4c4" opacity="1" filter="url(#f8)"/>
<ellipse cx="500" cy="776" rx="3" ry="1" fill="#dcdcdc" opacity="1" filter="url(#f8)"/>
<path d="M525.5,775.5 C525.5,772 528,771.2 533,771 L548,769.8 C556,769 560,769.2 563,770.5 L566.5,772.3 L563,774.2 C560,776 556,776.3 550,776.6 L533,779 C528,779.7 525.5,779 525.5,775.5 Z" fill="#050505" opacity="1" filter="url(#f9)"/>
<rect x="568.5" y="769.5" width="28" height="10" rx="2" fill="#b0b0b0" opacity="1" filter="url(#f13)"/>
<rect x="572" y="770" width="10" height="2.6" rx="1" fill="#3a3a3a" opacity="1" filter="url(#f8)"/>
<rect x="584" y="770.6" width="6" height="2.2" rx="1" fill="#4a4a4a" opacity="1" filter="url(#f8)"/>
<rect x="591" y="770" width="4.5" height="2.6" rx="1" fill="#555" opacity="1" filter="url(#f8)"/>
<rect x="570" y="775" width="26" height="3" rx="1" fill="#8c8c8c" opacity="1" filter="url(#f10)"/>
</g>
<rect x="451" y="750.6" width="150.4" height="44.2" fill="none" stroke="#262626" stroke-width="1.8"/>
<clipPath id="clip2"><rect x="451" y="803.6" width="150.2" height="40.8"/></clipPath>
<rect x="451" y="803.6" width="150.2" height="40.8" fill="#ebebeb"/>
<g clip-path="url(#clip2)">
<rect x="453" y="806" width="32" height="38" rx="3" fill="#dadada" opacity="1" filter="url(#f20)"/>
<rect x="487" y="806" width="35" height="38" rx="3" fill="#dadada" opacity="1" filter="url(#f20)"/>
<rect x="530.5" y="806" width="24.5" height="38" rx="3" fill="#d4d4d4" opacity="1" filter="url(#f20)"/>
<path d="M531,836 Q543,831 555,836 L555,838 Q543,834 531,838 Z" fill="#aaa" opacity="1" filter="url(#f10)"/>
<rect x="454" y="812.5" width="30.5" height="20" rx="5" fill="#020202" opacity="1" filter="url(#f13)"/>
<rect x="487.2" y="812.5" width="34.8" height="20.5" rx="5" fill="#020202" opacity="1" filter="url(#f13)"/>
<ellipse cx="470" cy="830" rx="12" ry="2.5" fill="#333" opacity="1" filter="url(#f15)"/>
<ellipse cx="504" cy="830" rx="14" ry="2.5" fill="#333" opacity="1" filter="url(#f15)"/>
<rect x="564" y="816" width="34.5" height="14.5" rx="5" fill="#5a5a5a" opacity="1" filter="url(#f18)"/>
<rect x="565" y="818.5" width="30" height="8.5" rx="4" fill="#111" opacity="1" filter="url(#f13)"/>
<ellipse cx="594.5" cy="822" rx="3.8" ry="8" fill="#000" opacity="1" filter="url(#f13)"/>
<ellipse cx="478" cy="827" rx="3" ry="2" fill="#444" opacity="1" filter="url(#f12)"/>
<ellipse cx="500" cy="827" rx="3" ry="2" fill="#444" opacity="1" filter="url(#f12)"/>
<ellipse cx="515" cy="817" rx="2.5" ry="2" fill="#333" opacity="1" filter="url(#f12)"/>
</g>
<rect x="451" y="803.6" width="150.2" height="40.8" fill="none" stroke="#262626" stroke-width="1.8"/>
<clipPath id="clip3"><rect x="451" y="853.5" width="150.2" height="141.6"/></clipPath>
<rect x="451" y="853.5" width="150.2" height="141.6" fill="#e8e8e8"/>
<g clip-path="url(#clip3)">
<rect x="451" y="907.8" width="150" height="3" rx="0" fill="#cccccc" opacity="1" filter="url(#f12)"/>
<rect x="454" y="872" width="29.5" height="60" rx="3" fill="#dedede" opacity="1" filter="url(#f20)"/>
<ellipse cx="468.5" cy="909.5" rx="15" ry="3" fill="#c4c4c4" opacity="1" filter="url(#f15)"/>
<ellipse cx="468.5" cy="928.5" rx="15" ry="3.6" fill="#b0b0b0" opacity="1" filter="url(#f15)"/>
<ellipse cx="468.5" cy="945" rx="12" ry="1" fill="#c8c8c8" opacity="1" filter="url(#f12)"/>
<rect x="454" y="862.8" width="34" height="4.5" rx="2.2" fill="#3a3a3a" opacity="1" filter="url(#f12)"/>
<ellipse cx="460" cy="865" rx="5.5" ry="3.5" fill="#000" opacity="1" filter="url(#f12)"/>
<ellipse cx="477" cy="864.5" rx="4" ry="2.5" fill="#222" opacity="1" filter="url(#f12)"/>
<rect x="492.5" y="868" width="29" height="95" rx="4" fill="#d2d2d2" opacity="1" filter="url(#f20)"/>
<rect x="492.5" y="871" width="29" height="30" rx="4" fill="#c4c4c4" opacity="1" filter="url(#f20)"/>
<rect x="493" y="856.5" width="28" height="6" rx="3" fill="#b8b8b8" opacity="1" filter="url(#f15)"/>
<path d="M492.5,866 C492.5,861.5 495,861 507,861 C519,861 521.5,861.5 521.5,866 C521.5,871 518,872 507,872 C496,872 492.5,871 492.5,866 Z" fill="#000" opacity="1" filter="url(#f11)"/>
<ellipse cx="507" cy="910" rx="14" ry="3" fill="#8a8a8a" opacity="1" filter="url(#f15)"/>
<ellipse cx="507" cy="928" rx="14" ry="3.5" fill="#3c3c3c" opacity="1" filter="url(#f13)"/>
<ellipse cx="507" cy="942.5" rx="13" ry="1.6" fill="#7a7a7a" opacity="1" filter="url(#f12)"/>
<ellipse cx="507" cy="958" rx="11" ry="1.8" fill="#c0c0c0" opacity="1" filter="url(#f12)"/>
<rect x="528.5" y="878" width="28.5" height="86" rx="5" fill="#b4b4b4" opacity="1" filter="url(#f20)"/>
<rect x="529" y="879" width="8.5" height="86" rx="4" fill="#8a8a8a" opacity="0.6" filter="url(#f16)"/>
<rect x="547" y="879" width="8.5" height="86" rx="4" fill="#8a8a8a" opacity="0.6" filter="url(#f16)"/>
<ellipse cx="535" cy="885" rx="5" ry="3.5" fill="#6a6a6a" opacity="1" filter="url(#f15)"/>
<ellipse cx="550" cy="885" rx="5" ry="3.5" fill="#6a6a6a" opacity="1" filter="url(#f15)"/>
<rect x="529" y="894" width="27" height="10" rx="3" fill="#9a9a9a" opacity="1" filter="url(#f15)"/>
<ellipse cx="542.5" cy="911" rx="15" ry="3.5" fill="#3e3e3e" opacity="1" filter="url(#f14)"/>
<ellipse cx="542.5" cy="928.5" rx="15" ry="4" fill="#3a3a3a" opacity="1" filter="url(#f14)"/>
<ellipse cx="542.5" cy="940" rx="14" ry="2" fill="#666" opacity="1" filter="url(#f12)"/>
<rect x="530" y="946" width="26" height="12" rx="3" fill="#b8b8b8" opacity="1" filter="url(#f15)"/>
<ellipse cx="542" cy="962" rx="14" ry="3" fill="#6e6e6e" opacity="1" filter="url(#f15)"/>
<ellipse cx="534" cy="866.5" rx="3" ry="1.3" fill="#c8c8c8" opacity="1" filter="url(#f10)"/>
<ellipse cx="550" cy="866.5" rx="3" ry="1.3" fill="#c8c8c8" opacity="1" filter="url(#f10)"/>
<path d="M524.5,982 C524.5,976 528,975.5 542,975.5 C557,975.5 561,976 561,981 C561,987 557,988.5 542,988.5 C528,988.5 524.5,988 524.5,982 Z" fill="#000" opacity="1" filter="url(#f13)"/>
<ellipse cx="541" cy="990" rx="15" ry="3" fill="#444" opacity="1" filter="url(#f15)"/>
<rect x="567" y="874" width="28" height="80" rx="4" fill="#d6d6d6" opacity="1" filter="url(#f20)"/>
<path d="M567,866 C567,860.5 570,860 581,860 C592,860 595,860.5 595,866 C595,870 592,870.5 581,870.5 C570,870.5 567,870 567,866 Z" fill="#0a0a0a" opacity="1" filter="url(#f12)"/>
<ellipse cx="581" cy="909" rx="14" ry="4" fill="#404040" opacity="1" filter="url(#f15)"/>
<ellipse cx="581" cy="926" rx="14" ry="4.3" fill="#3c3c3c" opacity="1" filter="url(#f15)"/>
<ellipse cx="581" cy="940" rx="13" ry="1.8" fill="#888" opacity="1" filter="url(#f12)"/>
<ellipse cx="581" cy="957" rx="10" ry="3" fill="#b4b4b4" opacity="1" filter="url(#f14)"/>
<rect x="562" y="976.5" width="36" height="14" rx="4" fill="#9c9c9c" opacity="1" filter="url(#f18)"/>
<ellipse cx="580" cy="980" rx="17" ry="2.5" fill="#777" opacity="1" filter="url(#f15)"/>
<ellipse cx="584" cy="988.5" rx="15" ry="3" fill="#222" opacity="1" filter="url(#f14)"/>
</g>
<rect x="451" y="853.5" width="150.2" height="141.6" fill="none" stroke="#262626" stroke-width="1.8"/>
<clipPath id="clip4"><rect x="451" y="1003.8" width="150.3" height="41.2"/></clipPath>
<rect x="451" y="1003.8" width="150.3" height="41.2" fill="#ececec"/>
<g clip-path="url(#clip4)">
<rect x="454" y="1006" width="30" height="13" rx="3" fill="#d8d8d8" opacity="1" filter="url(#f20)"/>
<rect x="491.5" y="1006" width="31" height="13" rx="3" fill="#d2d2d2" opacity="1" filter="url(#f20)"/>
<rect x="527" y="1006" width="31" height="13" rx="3" fill="#d8d8d8" opacity="1" filter="url(#f20)"/>
<rect x="564" y="1006" width="34" height="13" rx="3" fill="#d2d2d2" opacity="1" filter="url(#f20)"/>
<rect x="503" y="1005" width="5" height="14" rx="2" fill="#999" opacity="1" filter="url(#f15)"/>
<rect x="583" y="1007" width="4" height="12" rx="2" fill="#aaa" opacity="1" filter="url(#f15)"/>
<rect x="454.3" y="1017.2" width="30" height="12" rx="5" fill="#3a3a3a" opacity="1" filter="url(#f14)"/>
<rect x="491.7" y="1017.2" width="30.4" height="12" rx="5" fill="#3a3a3a" opacity="1" filter="url(#f14)"/>
<rect x="527.2" y="1017.2" width="31" height="12" rx="5" fill="#3a3a3a" opacity="1" filter="url(#f14)"/>
<rect x="564.6" y="1017.2" width="34" height="12" rx="5" fill="#363636" opacity="1" filter="url(#f14)"/>
</g>
<rect x="451" y="1003.8" width="150.3" height="41.2" fill="none" stroke="#262626" stroke-width="1.8"/>
<clipPath id="clip5"><rect x="71.3" y="986.7" width="148.2" height="35.8"/></clipPath>
<rect x="71.3" y="986.7" width="148.2" height="35.8" fill="#ebebeb"/>
<g clip-path="url(#clip5)">
<rect x="76" y="988" width="26" height="33" rx="3" fill="#c4c4c4" opacity="1" filter="url(#f20)"/>
<rect x="76" y="988" width="26" height="12" rx="3" fill="#7a7a7a" opacity="1" filter="url(#f15)"/>
<ellipse cx="81" cy="991" rx="6" ry="3.2" fill="#262626" opacity="1" filter="url(#f12)"/>
<ellipse cx="97" cy="991" rx="6" ry="3.2" fill="#262626" opacity="1" filter="url(#f12)"/>
<rect x="76" y="998" width="26" height="16" rx="5" fill="#0a0a0a" opacity="1" filter="url(#f13)"/>
<ellipse cx="81.5" cy="1005" rx="6" ry="8" fill="#000" opacity="1" filter="url(#f12)"/>
<ellipse cx="96.5" cy="1005.5" rx="6" ry="7.5" fill="#000" opacity="1" filter="url(#f12)"/>
<ellipse cx="89" cy="999.5" rx="2.5" ry="3.5" fill="#666" opacity="1" filter="url(#f15)"/>
<rect x="112" y="988" width="26.5" height="34" rx="3" fill="#bcbcbc" opacity="1" filter="url(#f20)"/>
<rect x="112" y="988" width="26.5" height="12" rx="3" fill="#777" opacity="1" filter="url(#f15)"/>
<ellipse cx="116.5" cy="992" rx="5" ry="4" fill="#0a0a0a" opacity="1" filter="url(#f12)"/>
<ellipse cx="132.5" cy="992" rx="5.2" ry="4" fill="#0a0a0a" opacity="1" filter="url(#f12)"/>
<ellipse cx="124.5" cy="993" rx="3.2" ry="4" fill="#999" opacity="1" filter="url(#f15)"/>
<rect x="112.5" y="999.5" width="26" height="16" rx="5" fill="#0a0a0a" opacity="1" filter="url(#f13)"/>
<ellipse cx="117" cy="1007.5" rx="5.5" ry="7.5" fill="#000" opacity="1" filter="url(#f12)"/>
<ellipse cx="133" cy="1008" rx="5.5" ry="7.5" fill="#000" opacity="1" filter="url(#f12)"/>
<ellipse cx="125" cy="1001" rx="3" ry="4" fill="#555" opacity="1" filter="url(#f15)"/>
<ellipse cx="150.5" cy="992" rx="4" ry="3.5" fill="#d0d0d0" opacity="1" filter="url(#f15)"/>
<ellipse cx="172" cy="992" rx="4" ry="3.5" fill="#d2d2d2" opacity="1" filter="url(#f15)"/>
<rect x="148" y="1002" width="28" height="14" rx="4" fill="#d8d8d8" opacity="1" filter="url(#f20)"/>
<ellipse cx="151.5" cy="1008.5" rx="4.5" ry="7" fill="#b4b4b4" opacity="1" filter="url(#f15)"/>
<ellipse cx="171.5" cy="1008.5" rx="4.5" ry="7" fill="#c0c0c0" opacity="1" filter="url(#f15)"/>
<ellipse cx="194" cy="992" rx="5" ry="3.8" fill="#c4c4c4" opacity="1" filter="url(#f15)"/>
<ellipse cx="211" cy="992" rx="5" ry="3.8" fill="#c4c4c4" opacity="1" filter="url(#f15)"/>
<rect x="190" y="1001" width="25" height="15" rx="4" fill="#cdcdcd" opacity="1" filter="url(#f20)"/>
<ellipse cx="193.5" cy="1008" rx="4.5" ry="7" fill="#a2a2a2" opacity="1" filter="url(#f15)"/>
<ellipse cx="211" cy="1008" rx="4.5" ry="7" fill="#969696" opacity="1" filter="url(#f15)"/>
</g>
<rect x="71.3" y="986.7" width="148.2" height="35.8" fill="none" stroke="#262626" stroke-width="1.8"/>
<clipPath id="clip6"><rect x="71.3" y="1027.6" width="148.2" height="35.8"/></clipPath>
<rect x="71.3" y="1027.6" width="148.2" height="35.8" fill="#ebebeb"/>
<g clip-path="url(#clip6)">
<rect x="71" y="1045.2" width="148" height="1.5" rx="0" fill="#d2d2d2" opacity="1" filter="url(#f10)"/>
<rect x="80" y="1030" width="21" height="14" rx="3" fill="#d4d4d4" opacity="1" filter="url(#f20)"/>
<rect x="108" y="1030" width="35" height="14" rx="3" fill="#d0d0d0" opacity="1" filter="url(#f20)"/>
<rect x="152" y="1032" width="20" height="12" rx="3" fill="#dadada" opacity="1" filter="url(#f20)"/>
<rect x="184" y="1032" width="27" height="12" rx="3" fill="#d6d6d6" opacity="1" filter="url(#f20)"/>
<rect x="80" y="1043" width="21" height="8.5" rx="4" fill="#0a0a0a" opacity="1" filter="url(#f12)"/>
<ellipse cx="85" cy="1047" rx="5.8" ry="5" fill="#000" opacity="1" filter="url(#f12)"/>
<ellipse cx="95.5" cy="1047" rx="5.8" ry="5" fill="#000" opacity="1" filter="url(#f12)"/>
<rect x="107.5" y="1042" width="36" height="10" rx="5" fill="#060606" opacity="1" filter="url(#f12)"/>
<ellipse cx="112.5" cy="1047" rx="6" ry="6" fill="#000" opacity="1" filter="url(#f12)"/>
<ellipse cx="124.5" cy="1047.3" rx="6" ry="5.3" fill="#000" opacity="1" filter="url(#f12)"/>
<ellipse cx="137.5" cy="1047" rx="6" ry="6" fill="#000" opacity="1" filter="url(#f12)"/>
<rect x="152" y="1043" width="20" height="7" rx="3" fill="#7a7a7a" opacity="1" filter="url(#f12)"/>
<ellipse cx="156.5" cy="1046" rx="4.5" ry="3.8" fill="#444" opacity="1" filter="url(#f12)"/>
<ellipse cx="167.5" cy="1046" rx="4.5" ry="3.8" fill="#4a4a4a" opacity="1" filter="url(#f12)"/>
<ellipse cx="155" cy="1051.5" rx="1.2" ry="1" fill="#333" opacity="1" filter="url(#f6)"/>
<rect x="184" y="1042.5" width="27" height="7.5" rx="3.5" fill="#222" opacity="1" filter="url(#f12)"/>
<ellipse cx="190" cy="1046" rx="5.5" ry="4" fill="#050505" opacity="1" filter="url(#f12)"/>
<ellipse cx="205.5" cy="1046" rx="5.5" ry="4" fill="#050505" opacity="1" filter="url(#f12)"/>
<ellipse cx="195" cy="1040.5" rx="1.5" ry="0.8" fill="#222" opacity="1" filter="url(#f6)"/>
<ellipse cx="90" cy="1058.5" rx="10" ry="1.8" fill="#b4b4b4" opacity="1" filter="url(#f12)"/>
<ellipse cx="125" cy="1058.5" rx="16" ry="1.8" fill="#b0b0b0" opacity="1" filter="url(#f12)"/>
<ellipse cx="161" cy="1058.5" rx="8" ry="1.6" fill="#bcbcbc" opacity="1" filter="url(#f12)"/>
<ellipse cx="197" cy="1058.5" rx="11" ry="1.6" fill="#bcbcbc" opacity="1" filter="url(#f12)"/>
</g>
<rect x="71.3" y="1027.6" width="148.2" height="35.8" fill="none" stroke="#262626" stroke-width="1.8"/>
<clipPath id="clip7"><rect x="71.3" y="1070.4" width="148.2" height="36.6"/></clipPath>
<rect x="71.3" y="1070.4" width="148.2" height="36.6" fill="#ececec"/>
<g clip-path="url(#clip7)">
<rect x="73" y="1074" width="33" height="12" rx="3" fill="#e0e0e0" opacity="1" filter="url(#f20)"/>
<rect x="109" y="1074" width="33" height="12" rx="3" fill="#e0e0e0" opacity="1" filter="url(#f20)"/>
<rect x="145" y="1074" width="33" height="12" rx="3" fill="#dedede" opacity="1" filter="url(#f20)"/>
<rect x="180" y="1074" width="35" height="12" rx="3" fill="#dcdcdc" opacity="1" filter="url(#f20)"/>
<rect x="72.2" y="1084.9" width="34.4" height="9.9" rx="5" fill="#2a2a2a" opacity="1" filter="url(#f12)"/>
<rect x="108.8" y="1084.9" width="33.3" height="9.9" rx="5" fill="#2a2a2a" opacity="1" filter="url(#f12)"/>
<rect x="144.3" y="1084.9" width="34.4" height="9.9" rx="5" fill="#2a2a2a" opacity="1" filter="url(#f12)"/>
<rect x="179.8" y="1084.6" width="35.5" height="10.2" rx="5" fill="#262626" opacity="1" filter="url(#f12)"/>
</g>
<rect x="71.3" y="1070.4" width="148.2" height="36.6" fill="none" stroke="#262626" stroke-width="1.8"/>
</svg></body></html>
